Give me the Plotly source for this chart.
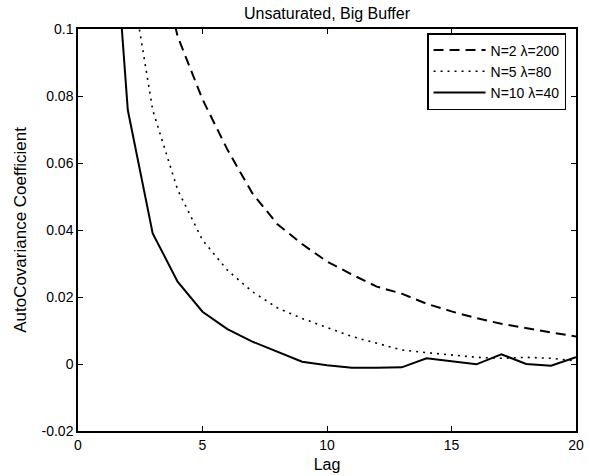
import plotly.graph_objects as go

lags = list(range(1, 21))
n2_l200 = [0.30, 0.18, 0.13, 0.0978, 0.079, 0.064, 0.051, 0.0418, 0.0358, 0.0306,
           0.0267, 0.0231, 0.021, 0.018, 0.0157, 0.0137, 0.012, 0.0106, 0.0094, 0.0082]
n5_l80 = [0.30, 0.121, 0.0758, 0.052, 0.037, 0.028, 0.0216, 0.0168, 0.0136, 0.011,
          0.0082, 0.0062, 0.0042, 0.0034, 0.0027, 0.002, 0.0017, 0.002, 0.0017, 0.0009]
n10_l40 = [0.177, 0.0758, 0.039, 0.0246, 0.0156, 0.0104, 0.0067, 0.0036, 0.0007, -0.0004,
           -0.0011, -0.0011, -0.001, 0.0017, 0.0007, -0.0001, 0.0029, 0.0, -0.0005, 0.002]
names = ["N=2 λ=200", "N=5 λ=80", "N=10 λ=40"]

x_ticks = [0, 5, 10, 15, 20]
y_ticks = [-0.02, 0, 0.02, 0.04, 0.06, 0.08, 0.1]
y_tick_text = ["-0.02", "0", "0.02", "0.04", "0.06", "0.08", "0.1"]

fig = go.Figure()
fig.add_trace(go.Scatter(x=lags, y=n2_l200, mode="lines", name=names[0],
                         line=dict(color="black", width=2, dash="10px,6px")))
fig.add_trace(go.Scatter(x=lags, y=n5_l80, mode="lines", name=names[1],
                         line=dict(color="black", width=1.6, dash="2px,5px")))
fig.add_trace(go.Scatter(x=lags, y=n10_l40, mode="lines", name=names[2],
                         line=dict(color="black", width=2)))

font = "Liberation Sans, Arial, sans-serif"
axis_common = dict(showline=True, linecolor="black", linewidth=1.5, mirror="ticks",
                   ticks="inside", ticklen=5, tickcolor="black", tickwidth=1,
                   showgrid=False, zeroline=False, automargin=False,
                   tickfont=dict(family=font, size=14, color="black"))

fig.update_layout(
    width=590, height=476,
    margin=dict(l=78, r=14, t=29, b=45),
    paper_bgcolor="white", plot_bgcolor="white",
    title=dict(text="Unsaturated, Big Buffer", x=(78 + 576) / 2 / 590, xanchor="center",
               y=1 - 13 / 476, yanchor="middle", font=dict(family=font, size=16, color="black")),
    xaxis=dict(range=[0, 20], tickvals=x_ticks, ticktext=[str(t) for t in x_ticks],
               title=dict(text="Lag", font=dict(family=font, size=16, color="black"), standoff=7),
               **axis_common),
    yaxis=dict(range=[-0.02, 0.1], tickvals=y_ticks, ticktext=y_tick_text,
               title=dict(text="AutoCovariance Coefficient", font=dict(family=font, size=17, color="black"),
                          standoff=11),
               **axis_common),
    legend=dict(x=0.98, y=0.99, xanchor="right", yanchor="top",
                bgcolor="white", bordercolor="black", borderwidth=1.5,
                font=dict(family=font, size=14, color="black"),
                tracegroupgap=0, itemwidth=52),
    showlegend=True,
)

fig.write_html("out.html", config={"displayModeBar": False},
               post_script="document.body.style.margin='0px';document.body.style.padding='0px';"
                           "document.body.style.overflow='hidden';")
